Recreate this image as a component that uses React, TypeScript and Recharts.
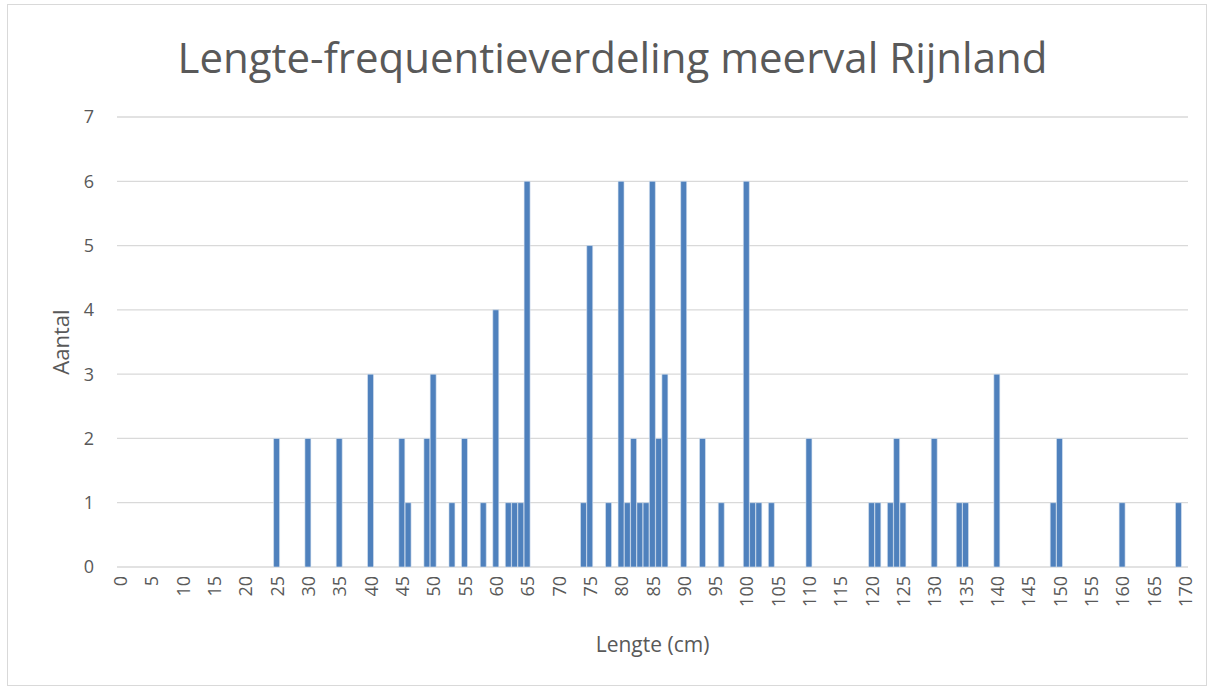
import React from "react";
import { BarChart, Bar, XAxis, YAxis, CartesianGrid } from "recharts";

const title = "Lengte-frequentieverdeling meerval Rijnland";
const xTitle = "Lengte (cm)";
const yTitle = "Aantal";

const minLength = 0;
const maxLength = 170;

const measuredLengths = [
  25, 30, 35, 40, 45, 46, 49, 50, 53, 55, 58, 60, 62, 63, 64, 65, 74, 75, 78, 80,
  81, 82, 83, 84, 85, 86, 87, 90, 93, 96, 100, 101, 102, 104, 110, 120, 121, 123, 124, 125,
  130, 134, 135, 140, 149, 150, 160, 169,
];
const counts = [
  2, 2, 2, 3, 2, 1, 2, 3, 1, 2, 1, 4, 1, 1, 1, 6, 1, 5, 1, 6,
  1, 2, 1, 1, 6, 2, 3, 6, 2, 1, 6, 1, 1, 1, 2, 1, 1, 1, 2, 1,
  2, 1, 1, 3, 1, 2, 1, 1,
];
const yTicks = [0, 1, 2, 3, 4, 5, 6, 7];

const categories: number[] = [];
for (let v = minLength; v <= maxLength; v++) categories.push(v);

const data = categories.map((len) => {
  const idx = measuredLengths.indexOf(len);
  return { lengte: String(len), aantal: idx >= 0 ? counts[idx] : 0 };
});

const FONT = "'Open Sans', 'Noto Sans', sans-serif";
const GREY = "#595959";

const XTick = (props: any) => {
  const { x, y, payload } = props;
  return (
    <text
      x={x}
      y={y}
      transform={`rotate(-90, ${x}, ${y})`}
      textAnchor="end"
      dominantBaseline="central"
      fill={GREY}
      fontSize={18}
      fontFamily={FONT}
    >
      {payload.value}
    </text>
  );
};

export default function App() {
  return (
    <div style={{ position: "absolute", left: 0, top: 0, width: 1215, height: 690, background: "#fff" }}>
      <div
        style={{
          position: "absolute",
          left: 7,
          top: 4,
          width: 1200,
          height: 682,
          border: "1px solid #d9d9d9",
          boxSizing: "border-box",
        }}
      />
      <div
        style={{
          position: "absolute",
          left: 0,
          width: 1215,
          top: 28,
          textAlign: "center",
          fontFamily: FONT,
          fontSize: 42,
          color: GREY,
          lineHeight: "58px",
          paddingLeft: 10,
          boxSizing: "border-box",
        }}
      >
        {title}
      </div>
      <div
        style={{
          position: "absolute",
          left: 540,
          width: 225,
          top: 630,
          textAlign: "center",
          fontFamily: FONT,
          fontSize: 21,
          color: GREY,
        }}
      >
        {xTitle}
      </div>
      <div
        style={{
          position: "absolute",
          left: 60,
          top: 342,
          transform: "translate(-50%, -50%) rotate(-90deg)",
          fontFamily: FONT,
          fontSize: 22,
          color: GREY,
          whiteSpace: "nowrap",
        }}
      >
        {yTitle}
      </div>
      <div style={{ position: "absolute", left: 0, top: 0 }}>
        <BarChart
          width={1215}
          height={690}
          data={data}
          margin={{ top: 117, right: 27, left: 77, bottom: 83 }}
          barCategoryGap={0}
        >
          <CartesianGrid vertical={false} stroke="#d9d9d9" strokeWidth={1.3} />
          <XAxis
            dataKey="lengte"
            interval={4}
            tick={<XTick />}
            tickLine={false}
            axisLine={false}
            tickSize={0}
            tickMargin={9}
            height={40}
          />
          <YAxis
            domain={[0, 7]}
            ticks={yTicks}
            tickLine={false}
            axisLine={false}
            tickSize={0}
            tickMargin={23}
            width={40}
            tick={{ fill: GREY, fontSize: 18, fontFamily: FONT }}
          />
          <Bar dataKey="aantal" fill="#4F81BD" stroke="#dce6f2" strokeWidth={0.6} barSize={6} isAnimationActive={false} />
        </BarChart>
      </div>
    </div>
  );
}
